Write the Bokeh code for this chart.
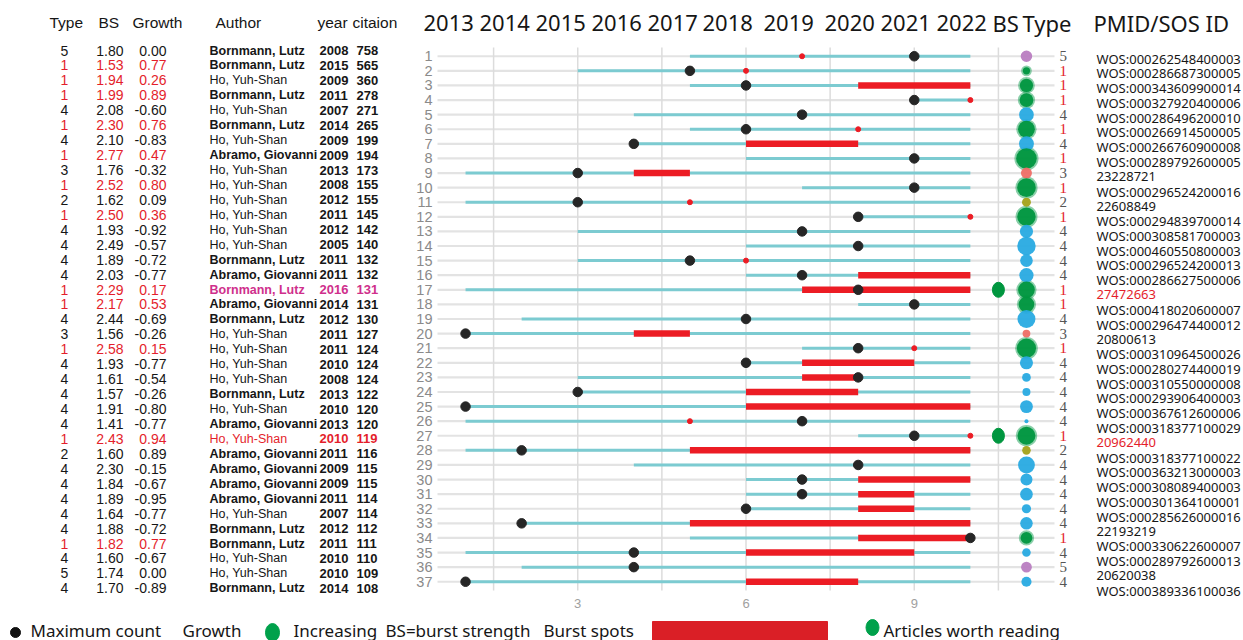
import math

from bokeh.plotting import figure
from bokeh.models import ColumnDataSource, Range1d
from bokeh.embed import file_html
from bokeh.resources import INLINE
from bokeh.core.properties import value

# ---------------------------------------------------------------- data
rows = list(range(1, 38))

types = [5, 1, 1, 1, 4, 1, 4, 1, 3, 1, 2, 1, 4, 4, 4, 4, 1, 1, 4, 3, 1, 4, 4, 4, 4,
         4, 1, 2, 4, 4, 4, 4, 4, 1, 4, 5, 4]

bs = [1.80, 1.53, 1.94, 1.99, 2.08, 2.30, 2.10, 2.77, 1.76, 2.52, 1.62, 2.50, 1.93,
      2.49, 1.89, 2.03, 2.29, 2.17, 2.44, 1.56, 2.58, 1.93, 1.61, 1.57, 1.91, 1.41,
      2.43, 1.60, 2.30, 1.84, 1.89, 1.64, 1.88, 1.82, 1.60, 1.74, 1.70]

growth = [0.00, 0.77, 0.26, 0.89, -0.60, 0.76, -0.83, 0.47, -0.32, 0.80, 0.09, 0.36,
          -0.92, -0.57, -0.72, -0.77, 0.17, 0.53, -0.69, -0.26, 0.15, -0.77, -0.54,
          -0.26, -0.80, -0.77, 0.94, 0.89, -0.15, -0.67, -0.95, -0.77, -0.72, 0.77,
          -0.67, 0.00, -0.89]

authors = ["Bornmann, Lutz", "Bornmann, Lutz", "Ho, Yuh-Shan", "Bornmann, Lutz",
           "Ho, Yuh-Shan", "Bornmann, Lutz", "Ho, Yuh-Shan", "Abramo, Giovanni",
           "Ho, Yuh-Shan", "Ho, Yuh-Shan", "Ho, Yuh-Shan", "Ho, Yuh-Shan",
           "Ho, Yuh-Shan", "Ho, Yuh-Shan", "Bornmann, Lutz", "Abramo, Giovanni",
           "Bornmann, Lutz", "Abramo, Giovanni", "Bornmann, Lutz", "Ho, Yuh-Shan",
           "Ho, Yuh-Shan", "Ho, Yuh-Shan", "Ho, Yuh-Shan", "Bornmann, Lutz",
           "Ho, Yuh-Shan", "Abramo, Giovanni", "Ho, Yuh-Shan", "Abramo, Giovanni",
           "Abramo, Giovanni", "Abramo, Giovanni", "Abramo, Giovanni", "Ho, Yuh-Shan",
           "Bornmann, Lutz", "Bornmann, Lutz", "Ho, Yuh-Shan", "Ho, Yuh-Shan",
           "Bornmann, Lutz"]

years = [2008, 2015, 2009, 2011, 2007, 2014, 2009, 2009, 2013, 2008, 2012, 2011, 2012,
         2005, 2011, 2011, 2016, 2014, 2012, 2011, 2011, 2010, 2008, 2013, 2010, 2013,
         2010, 2011, 2009, 2009, 2011, 2007, 2012, 2011, 2010, 2010, 2014]

citations = [758, 565, 360, 278, 271, 265, 199, 194, 173, 155, 155, 145, 142, 140, 132,
             132, 131, 131, 130, 127, 124, 124, 124, 122, 120, 120, 119, 116, 115, 115,
             114, 114, 112, 111, 110, 109, 108]

ids = ["WOS:000262548400003", "WOS:000286687300005", "WOS:000343609900014",
       "WOS:000327920400006", "WOS:000286496200010", "WOS:000266914500005",
       "WOS:000266760900008", "WOS:000289792600005", "23228721",
       "WOS:000296524200016", "22608849", "WOS:000294839700014",
       "WOS:000308581700003", "WOS:000460550800003", "WOS:000296524200013",
       "WOS:000286627500006", "27472663", "WOS:000418020600007",
       "WOS:000296474400012", "20800613", "WOS:000310964500026",
       "WOS:000280274400019", "WOS:000310550000008", "WOS:000293906400003",
       "WOS:000367612600006", "WOS:000318377100029", "20962440",
       "WOS:000318377100022", "WOS:000363213000003", "WOS:000308089400003",
       "WOS:000301364100001", "WOS:000285626000016", "22193219",
       "WOS:000330622600007", "WOS:000289792600013", "20620038",
       "WOS:000389336100036"]

# timeline slices: 1 = 2013 ... 10 = 2022
year_labels = ["2013", "2014", "2015", "2016", "2017", "2018", "2019", "2020", "2021", "2022"]
x_ticks = [3, 6, 9]
last_slice = 10
line_start = [5, 3, 5, 9, 4, 5, 4, 6, 1, 7, 1, 8, 3, 6, 3, 6, 1, 8, 2, 1, 7, 6, 3, 3, 1,
              1, 8, 1, 4, 6, 6, 6, 2, 5, 1, 2, 1]
max_count = [9, 5, 6, 9, 7, 6, 4, 9, 3, 9, 3, 8, 7, 8, 5, 7, 8, 9, 6, 1, 8, 6, 8, 3, 1,
             7, 9, 2, 8, 7, 7, 6, 2, 10, 4, 4, 1]
burst_start = [7, 6, 8, 10, None, 8, 6, None, 4, None, 5, 10, None, None, 6, 8, 7, None,
               None, 4, 9, 7, 7, 6, 6, 5, 10, 5, None, 8, 8, 8, 5, 8, 6, None, 6]
burst_end = [7, 6, 10, 10, None, 8, 8, None, 5, None, 5, 10, None, None, 6, 10, 10, None,
             None, 5, 9, 9, 8, 8, 10, 5, 10, 10, None, 10, 9, 9, 10, 10, 9, None, 8]

worth_reading = [17, 27]
text_highlight = {17: "#cf2f8c", 27: "#e41e2b"}

# ---------------------------------------------------------------- style / geometry
TEAL = "#7ccbd1"
RED = "#ec1c24"
TXT_RED = "#e41e2b"
DOT = "#262626"
INK = "#161616"
type_colors = {1: "#00963f", 2: "#a3a21a", 3: "#ee6e66", 4: "#28aae1", 5: "#b97dc1"}
BUBBLE_X = 11
READ_X = 10.5

# data window of the timeline panel and where it sits on the page
X0, X1 = 0.5, 11.5
Y0, Y1 = 0.4, 37.6
W, H = 1243, 640
PANEL_L, PANEL_R, PANEL_T, PANEL_B = 437, 1054, 47, 590


def px_x(px):
    return X0 + (px - PANEL_L) * (X1 - X0) / (PANEL_R - PANEL_L)


def px_y(py):
    return Y0 + (py - PANEL_T) * (Y1 - Y0) / (PANEL_B - PANEL_T)


p = figure(width=W, height=H,
           x_range=Range1d(px_x(0), px_x(W)), y_range=Range1d(px_y(H), px_y(0)),
           output_backend="svg", toolbar_location=None, min_border=0)
p.axis.visible = False
p.grid.visible = False
p.outline_line_color = None
p.background_fill_color = "white"
p.border_fill_color = "white"

# panel grid
grid_x = [1.5, 3, 4.5, 6, 7.5, 9, 10.5]
p.segment(x0=[X0] * len(rows), y0=rows, x1=[X1] * len(rows), y1=rows,
          line_color="#e3e3e3", line_width=2.2)
p.segment(x0=grid_x, y0=[Y0] * len(grid_x), x1=grid_x, y1=[Y1] * len(grid_x),
          line_color="#dcdcdc", line_width=1.5)

# citation timelines
p.segment(x0=line_start, y0=rows, x1=[last_slice] * len(rows), y1=rows,
          line_color=TEAL, line_width=3)

# burst periods (multi-slice as bars, single-slice as red spots)
bx0, bx1, by, sx, sy = [], [], [], [], []
for r, b0, b1 in zip(rows, burst_start, burst_end):
    if b0 is None:
        continue
    if b1 > b0:
        bx0.append(b0); bx1.append(b1); by.append(r)
    else:
        sx.append(b0); sy.append(r)
p.segment(x0=bx0, y0=by, x1=bx1, y1=by, line_color=RED, line_width=6.5, line_cap="butt")
p.scatter(x=sx, y=sy, size=5, color=RED)

# year of maximum citation count
p.scatter(x=max_count, y=rows, size=9.5, color=DOT)

# articles worth reading
p.ellipse(x=[READ_X] * len(worth_reading), y=worth_reading, width=12, height=15,
          width_units="screen", height_units="screen", color=type_colors[1])

# burst-strength bubbles coloured by type (increasing type drawn with a soft halo)
bmin = min(bs)
sizes = [math.sqrt(16 + 300 * (b - bmin)) for b in bs]
halo_idx = [i for i, t in enumerate(types) if t == 1]
p.scatter(x=[BUBBLE_X] * len(halo_idx), y=[rows[i] for i in halo_idx],
          size=[sizes[i] + 3.5 for i in halo_idx], fill_color="#2aa862",
          fill_alpha=0.55, line_color=None)
bub = ColumnDataSource(dict(
    x=[BUBBLE_X] * len(rows), y=rows, size=sizes,
    color=[type_colors[t] for t in types]))
p.scatter(x="x", y="y", size="size", fill_color="color", line_color=None,
          fill_alpha=0.95, source=bub)


# ---------------------------------------------------------------- text
def add_text(xs, ys, texts, colors, font, size, align="left", style="normal"):
    src = ColumnDataSource(dict(x=xs, y=ys, t=texts, c=colors))
    p.text(x="x", y="y", text="t", text_color="c", source=src,
           text_font=value(font), text_font_size=size, text_align=align,
           text_baseline="middle", text_font_style=style)


n = len(rows)
# panel tick labels
add_text([px_x(432)] * n, rows, [str(r) for r in rows], ["#8a8a8a"] * n,
         "Liberation Sans", "14.5px", "right")
add_text(x_ticks, [px_y(603)] * len(x_ticks), [str(t) for t in x_ticks],
         ["#a0a0a0"] * len(x_ticks), "Liberation Sans", "13px", "center")

# article table
TABLE_TOP, TABLE_STEP = 50, 14.94
ID_TOP, ID_STEP = 58, 14.78
ty = [px_y(TABLE_TOP + (r - 1) * TABLE_STEP) for r in rows]
iy = [px_y(ID_TOP + (r - 1) * ID_STEP) for r in rows]
left_col = [TXT_RED if t == 1 else INK for t in types]
right_col = [text_highlight.get(r, INK) for r in rows]

add_text([px_x(64)] * n, ty, [str(t) for t in types], left_col,
         "Liberation Sans", "14px", "center")
add_text([px_x(123)] * n, ty, [f"{b:.2f}" for b in bs], left_col,
         "Liberation Sans", "14px", "right")
add_text([px_x(166)] * n, ty, [f"{g:.2f}" for g in growth], left_col,
         "Liberation Sans", "14px", "right")

bold_idx = [i for i, a in enumerate(authors) if not a.startswith("Ho")]
reg_idx = [i for i, a in enumerate(authors) if a.startswith("Ho")]
for idx, st in ((bold_idx, "bold"), (reg_idx, "normal")):
    add_text([px_x(209)] * len(idx), [ty[i] for i in idx], [authors[i] for i in idx],
             [right_col[i] for i in idx], "Liberation Sans", "12.5px", "left", st)
add_text([px_x(319)] * n, ty, [str(y) for y in years], right_col,
         "Liberation Sans", "13px", "left", "bold")
add_text([px_x(356)] * n, ty, [str(c) for c in citations], right_col,
         "Liberation Sans", "13px", "left", "bold")

# type labels beside the bubbles, then record identifiers
add_text([px_x(1059)] * n, rows, [str(t) for t in types],
         [TXT_RED if t == 1 else "#555555" for t in types],
         "Liberation Serif", "15px", "left")
id_col = [TXT_RED if r in worth_reading else INK for r in rows]
add_text([px_x(1096)] * n, iy, ids, id_col, "Noto Sans", "13px", "left")

# column headers
hy = px_y(22)
table_heads = ["Type", "BS", "Growth", "Author", "year", "citaion"]
table_head_px = [49, 98, 132, 215, 317, 352]
add_text([px_x(v) for v in table_head_px], [hy] * len(table_heads), table_heads,
         [INK] * len(table_heads), "Liberation Sans", "15.5px", "left")
chart_heads = year_labels + ["BS", "Type", "PMID/SOS ID"]
chart_head_px = [423, 479, 535, 591, 647, 702, 763, 824, 880, 936, 992, 1022, 1093]
add_text([px_x(v) for v in chart_head_px], [hy] * len(chart_heads), chart_heads,
         [INK] * len(chart_heads), "Noto Sans", "22px", "left")

# ---------------------------------------------------------------- key strip
ky = px_y(630)
p.scatter(x=[px_x(15)], y=[px_y(632)], size=10, color="#111111")
p.ellipse(x=[px_x(272)], y=[px_y(632)], width=14, height=18,
          width_units="screen", height_units="screen", color="#00a14b")
p.quad(left=[px_x(652)], right=[px_x(827)], top=[px_y(621)], bottom=[px_y(H)],
       color="#da1f26")
p.ellipse(x=[px_x(872)], y=[px_y(627)], width=13, height=16,
          width_units="screen", height_units="screen", color="#00a14b")
key_text = ["Maximum count", "Growth", "Increasing", "BS=burst strength", "Burst spots",
            "Articles worth reading"]
key_px = [30, 182, 293, 385, 543, 883]
add_text([px_x(v) for v in key_px], [ky] * len(key_text), key_text,
         [INK] * len(key_text), "Noto Sans", "17px", "left")

open("out.html", "w").write(file_html(p, INLINE))
